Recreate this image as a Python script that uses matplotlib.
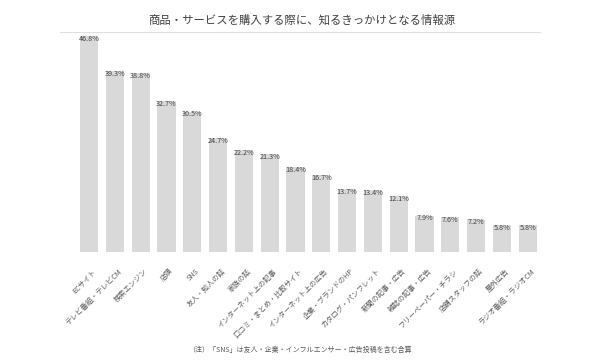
import numpy as np
import matplotlib.pyplot as plt
from matplotlib.lines import Line2D
from matplotlib.transforms import ScaledTranslation

plt.rcParams['font.family'] = ['Noto Sans CJK JP', 'DejaVu Sans']

title = "商品・サービスを購入する際に、知るきっかけとなる情報源"
note = "（注）「SNS」は友人・企業・インフルエンサー・広告投稿を含む合算"

categories = [
    "ECサイト",
    "テレビ番組・テレビCM",
    "検索エンジン",
    "店頭",
    "SNS",
    "友人・知人の話",
    "家族の話",
    "インターネット上の記事",
    "口コミ・まとめ・比較サイト",
    "インターネット上の広告",
    "企業・ブランドのHP",
    "カタログ・パンフレット",
    "新聞の記事・広告",
    "雑誌の記事・広告",
    "フリーペーパー・チラシ",
    "店舗スタッフの話",
    "屋外広告",
    "ラジオ番組・ラジオCM",
]
values = [46.8, 39.3, 38.8, 32.7, 30.5, 24.7, 22.2, 21.3, 18.4,
          16.7, 13.7, 13.4, 12.1, 7.9, 7.6, 7.2, 5.8, 5.8]

fig = plt.figure(figsize=(6, 3.6), dpi=100)
ax = fig.add_axes([0.127, 0.30, 0.774, 0.614])

x = np.arange(len(categories))
ax.bar(x, values, width=0.70, color='#d9d9d9')

for xi, v in zip(x, values):
    ax.text(xi, v - 0.6, f"{v:.1f}%", ha='center', va='center',
            fontsize=5.2, color='#404040')

ax.set_xlim(-0.5, len(categories) - 0.5)
ax.set_ylim(0, 48)
ax.set_xticks(x)
ax.set_xticklabels(categories, rotation=45, ha='right',
                   rotation_mode='anchor', fontsize=5.2, color='#595959')
ax.tick_params(axis='x', length=0, pad=11)
shift = ScaledTranslation(3 / 100, 0, fig.dpi_scale_trans)
for lab in ax.get_xticklabels():
    lab.set_transform(lab.get_transform() + shift)
ax.set_yticks([])
for s in ax.spines.values():
    s.set_visible(False)

fig.text(0.503, 0.944, title, ha='center', va='center',
         fontsize=8.2, color='#404040')
fig.add_artist(Line2D([0.10, 0.90], [0.91, 0.91], color='#e0e0e0',
                      linewidth=0.8, transform=fig.transFigure))
fig.text(0.50, 0.028, note, ha='center', va='center',
         fontsize=5, color='#595959')

fig.savefig('out.png', dpi=100, facecolor='white')
